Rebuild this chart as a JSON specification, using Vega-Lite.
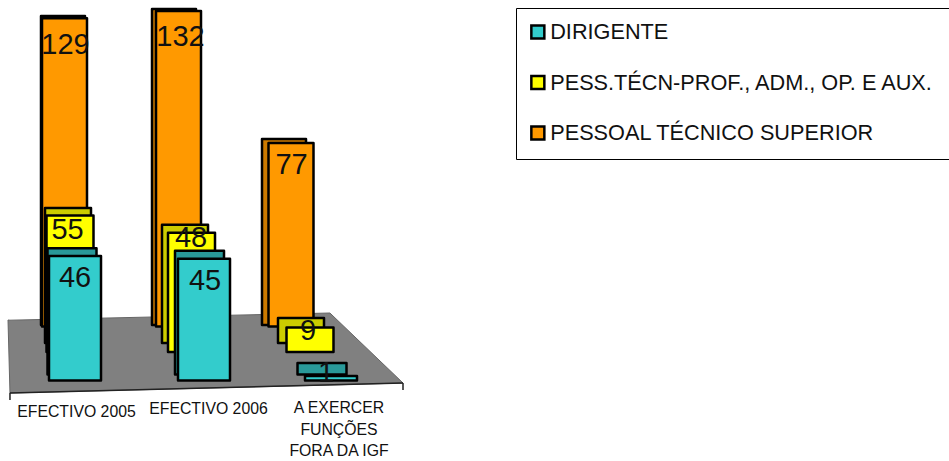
{
"$schema":"https://vega.github.io/schema/vega-lite/v6.json",
"width":949,"height":461,"padding":0,"autosize":{"type":"none"},
"background":"white",
"config":{"font":"Liberation Sans","view":{"stroke":null},
"legend":{"orient":"none","legendX":516,"legendY":8,"fillColor":"white","strokeColor":"black","strokeWidth":1,"padding":14,"rowPadding":28.5,"clipHeight":20,"symbolType":"square","symbolSize":169,"symbolStrokeColor":"black","symbolStrokeWidth":2.5,"symbolOffset":-3,"labelOffset":1.5,"labelFont":"Liberation Sans","labelFontSize":21.7,"labelColor":"#111111","labelLimit":500}},
"datasets":{
"rows":[
{"period":"EFECTIVO 2005","slot":1,"series":"DIRIGENTE","value":46},
{"period":"EFECTIVO 2006","slot":2,"series":"DIRIGENTE","value":45},
{"period":"A EXERCER\nFUNÇÕES\nFORA DA IGF","slot":3,"series":"DIRIGENTE","value":1},
{"period":"EFECTIVO 2005","slot":1,"series":"PESS.TÉCN-PROF., ADM., OP. E AUX.","value":55},
{"period":"EFECTIVO 2006","slot":2,"series":"PESS.TÉCN-PROF., ADM., OP. E AUX.","value":48},
{"period":"A EXERCER\nFUNÇÕES\nFORA DA IGF","slot":3,"series":"PESS.TÉCN-PROF., ADM., OP. E AUX.","value":9},
{"period":"EFECTIVO 2005","slot":1,"series":"PESSOAL TÉCNICO SUPERIOR","value":129},
{"period":"EFECTIVO 2006","slot":2,"series":"PESSOAL TÉCNICO SUPERIOR","value":132},
{"period":"A EXERCER\nFUNÇÕES\nFORA DA IGF","slot":3,"series":"PESSOAL TÉCNICO SUPERIOR","value":77}],
"periods":[
{"period":"EFECTIVO 2005","slot":1},
{"period":"EFECTIVO 2006","slot":2},
{"period":"A EXERCER\nFUNÇÕES\nFORA DA IGF","slot":3}],
"floor":[
{"across":0,"rear":0.9125,"front":0.9125},
{"across":0.005,"rear":0.91,"front":0},
{"across":0.815,"rear":1,"front":0.1},
{"across":1,"rear":0.125,"front":0.125}],
"edges":[
{"edge":"front","across":0.005,"depth":0},
{"edge":"front","across":1,"depth":0.125},
{"edge":"left","across":0.005,"depth":0},
{"edge":"left","across":0.005,"depth":-0.0875},
{"edge":"right","across":1,"depth":0.125},
{"edge":"right","across":1,"depth":0.0375}]
},
"resolve":{"scale":{"x":"independent","y":"independent"},"axis":{"x":"independent","y":"independent"}},
"layer":[
{"data":{"name":"floor"},"mark":{"type":"area","color":"#808080","stroke":"#666666","strokeWidth":1},
"encoding":{
"x":{"field":"across","type":"quantitative","axis":null,"scale":{"domain":[0,1],"range":[8,403]}},
"y":{"field":"rear","type":"quantitative","axis":null,"scale":{"domain":[0,1],"range":[393,313]}},
"y2":{"field":"front"}}},
{"data":{"name":"edges"},"mark":{"type":"line","color":"#222222","strokeWidth":1.5},
"encoding":{
"x":{"field":"across","type":"quantitative","axis":null,"scale":{"domain":[0,1],"range":[8,403]}},
"y":{"field":"depth","type":"quantitative","axis":null,"scale":{"domain":[0,1],"range":[393,313]}},
"detail":{"field":"edge"}}},

{"data":{"name":"rows"},"transform":[{"filter":"datum.series==='PESSOAL TÉCNICO SUPERIOR'"}],
"mark":{"type":"bar","orient":"vertical","size":44,"color":"#CC7A00","stroke":"black","strokeWidth":2.5,"strokeJoin":"round"},
"encoding":{
"x":{"field":"slot","type":"quantitative","axis":null,"scale":{"domain":[1,2,3],"range":[63,174,284],"padding":0}},
"y":{"field":"value","type":"quantitative","axis":null,"scale":{"domain":[0,135],"range":[321,1.8]}},
"y2":{"datum":-1.7}}},
{"data":{"name":"rows"},"transform":[{"filter":"datum.series==='PESSOAL TÉCNICO SUPERIOR'"}],
"mark":{"type":"bar","orient":"vertical","size":45,"stroke":"black","strokeWidth":2.5,"strokeJoin":"round"},
"encoding":{
"x":{"field":"slot","type":"quantitative","axis":null,"scale":{"domain":[1,2,3],"range":[64.5,178.5,291],"padding":0}},
"y":{"field":"value","type":"quantitative","axis":null,"scale":{"domain":[0,135],"range":[327.8,3.8]}},
"y2":{"datum":0.5},
"color":{"field":"series","type":"nominal","title":null,"scale":{"domain":["DIRIGENTE","PESS.TÉCN-PROF., ADM., OP. E AUX.","PESSOAL TÉCNICO SUPERIOR"],"range":["#33CCCC","#FFFF00","#FF9900"]}}}},

{"data":{"name":"rows"},"transform":[{"filter":"datum.series==='PESS.TÉCN-PROF., ADM., OP. E AUX.'"}],
"mark":{"type":"bar","orient":"vertical","size":46,"color":"#CCCC00","stroke":"black","strokeWidth":2.5,"strokeJoin":"round"},
"encoding":{
"x":{"field":"slot","type":"quantitative","axis":null,"scale":{"domain":[1,2,3],"range":[68,185,301],"padding":0}},
"y":{"field":"value","type":"quantitative","axis":null,"scale":{"domain":[0,135],"range":[339.5,16.85]}},
"y2":{"datum":-1.5}}},
{"data":{"name":"rows"},"transform":[{"filter":"datum.series==='PESS.TÉCN-PROF., ADM., OP. E AUX.'"}],
"mark":{"type":"bar","orient":"vertical","size":47,"stroke":"black","strokeWidth":2.5,"strokeJoin":"round"},
"encoding":{
"x":{"field":"slot","type":"quantitative","axis":null,"scale":{"domain":[1,2,3],"range":[70,191.5,310],"padding":0}},
"y":{"field":"value","type":"quantitative","axis":null,"scale":{"domain":[0,135],"range":[349.5,20.8]}},
"y2":{"datum":-1},
"color":{"field":"series","type":"nominal","title":null,"scale":{"domain":["DIRIGENTE","PESS.TÉCN-PROF., ADM., OP. E AUX.","PESSOAL TÉCNICO SUPERIOR"],"range":["#33CCCC","#FFFF00","#FF9900"]}}}},

{"data":{"name":"rows"},"transform":[{"filter":"datum.series==='DIRIGENTE'"}],
"mark":{"type":"bar","orient":"vertical","size":49,"color":"#299999","stroke":"black","strokeWidth":2.5,"strokeJoin":"round"},
"encoding":{
"x":{"field":"slot","type":"quantitative","axis":null,"scale":{"domain":[1,2,3],"range":[72,199.5,322],"padding":0}},
"y":{"field":"value","type":"quantitative","axis":null,"scale":{"domain":[0,135],"range":[365.5,21.25]}},
"y2":{"datum":-3.5}}},
{"data":{"name":"rows"},"transform":[{"filter":"datum.series==='DIRIGENTE'"}],
"mark":{"type":"bar","orient":"vertical","size":52,"stroke":"black","strokeWidth":2.5,"strokeJoin":"round"},
"encoding":{
"x":{"field":"slot","type":"quantitative","axis":null,"scale":{"domain":[1,2,3],"range":[75,204,331],"padding":0}},
"y":{"field":"value","type":"quantitative","axis":null,"scale":{"domain":[0,135],"range":[378.7,18.7]}},
"y2":{"datum":-0.7},
"color":{"field":"series","type":"nominal","title":null,"scale":{"domain":["DIRIGENTE","PESS.TÉCN-PROF., ADM., OP. E AUX.","PESSOAL TÉCNICO SUPERIOR"],"range":["#33CCCC","#FFFF00","#FF9900"]}}}},

{"data":{"name":"rows"},"transform":[{"filter":"datum.series==='PESSOAL TÉCNICO SUPERIOR'"}],
"mark":{"type":"text","fontSize":29,"color":"#111111","baseline":"middle","align":"center"},
"encoding":{
"x":{"field":"slot","type":"quantitative","axis":null,"scale":{"domain":[1,2,3],"range":[65.5,180.5,291.5]}},
"y":{"field":"value","type":"quantitative","axis":null,"scale":{"domain":[77,129,132],"range":[165,45,37]}},
"text":{"field":"value","type":"quantitative"}}},
{"data":{"name":"rows"},"transform":[{"filter":"datum.series==='PESS.TÉCN-PROF., ADM., OP. E AUX.'"}],
"mark":{"type":"text","fontSize":29,"color":"#111111","baseline":"middle","align":"center"},
"encoding":{
"x":{"field":"slot","type":"quantitative","axis":null,"scale":{"domain":[1,2,3],"range":[67.5,191,308]}},
"y":{"field":"value","type":"quantitative","axis":null,"scale":{"domain":[9,48,55],"range":[331,238,230]}},
"text":{"field":"value","type":"quantitative"}}},
{"data":{"name":"rows"},"transform":[{"filter":"datum.series==='DIRIGENTE'"}],
"mark":{"type":"text","fontSize":29,"color":"#111111","baseline":"middle","align":"center"},
"encoding":{
"x":{"field":"slot","type":"quantitative","axis":null,"scale":{"domain":[1,2,3],"range":[75,205,326]}},
"y":{"field":"value","type":"quantitative","axis":null,"scale":{"domain":[1,45,46],"range":[373,281,278]}},
"text":{"field":"value","type":"quantitative"}}},

{"data":{"name":"periods"},
"mark":{"type":"text","fontSize":15.8,"color":"#111111","baseline":"top","align":"center","lineBreak":"\n","lineHeight":21.5},
"encoding":{
"x":{"field":"slot","type":"quantitative","axis":null,"scale":{"domain":[1,2,3],"range":[76.5,208.5,339]}},
"y":{"field":"slot","type":"quantitative","axis":null,"scale":{"domain":[1,2,3],"range":[405,402,401]}},
"text":{"field":"period"}}}
]
}
